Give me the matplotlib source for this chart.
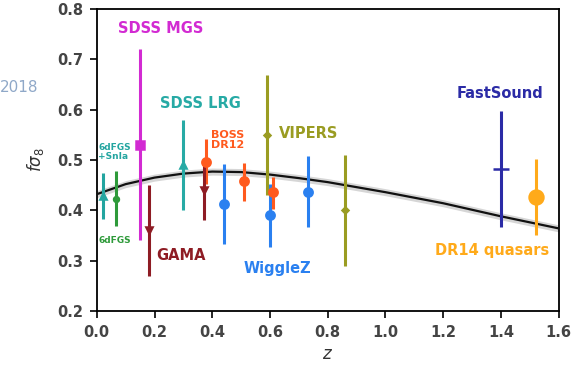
import matplotlib
matplotlib.use("Agg")
import matplotlib.pyplot as plt

# survey measurements: z, f*sigma8, lower / upper error
surveys = ["6dFGS+SnIa", "6dFGS", "SDSS MGS", "GAMA", "SDSS LRG", "BOSS DR12", "GAMA",
           "WiggleZ", "BOSS DR12", "WiggleZ", "BOSS DR12", "VIPERS", "WiggleZ", "VIPERS",
           "FastSound", "DR14 quasars"]
z = [0.02, 0.067, 0.15, 0.18, 0.30, 0.38, 0.37, 0.44, 0.51, 0.60, 0.61, 0.59, 0.73, 0.86, 1.40, 1.52]
fs8 = [0.428, 0.423, 0.530, 0.360, 0.490, 0.497, 0.440, 0.413, 0.458, 0.390, 0.436, 0.550, 0.437, 0.400, 0.482, 0.426]
err_lo = [0.046, 0.055, 0.190, 0.090, 0.090, 0.045, 0.060, 0.080, 0.040, 0.063, 0.034, 0.120, 0.070, 0.110, 0.116, 0.076]
err_hi = [0.046, 0.055, 0.190, 0.090, 0.090, 0.045, 0.060, 0.080, 0.036, 0.063, 0.030, 0.120, 0.070, 0.110, 0.116, 0.076]

# LCDM prediction
z_model = [0.0, 0.1, 0.2, 0.3, 0.4, 0.5, 0.6, 0.7, 0.8, 0.9, 1.0, 1.1, 1.2, 1.3, 1.4, 1.5, 1.6]
fs8_model = [0.432, 0.452, 0.465, 0.473, 0.477, 0.476, 0.471, 0.464, 0.456, 0.446, 0.436,
             0.425, 0.414, 0.401, 0.388, 0.376, 0.364]

colors = {"6dFGS+SnIa": "#23a5a0", "6dFGS": "#2e9a3a", "SDSS MGS": "#d22ad2", "GAMA": "#8e1c24",
          "SDSS LRG": "#27aaa5", "BOSS DR12": "#ff5a1e", "WiggleZ": "#2a80f0", "VIPERS": "#9a9c22",
          "FastSound": "#2b2ba6", "DR14 quasars": "#ffaa1a"}
markers = {"6dFGS+SnIa": ("^", 4), "6dFGS": ("o", 3.5), "SDSS MGS": ("s", 5.5), "GAMA": ("v", 4),
           "SDSS LRG": ("^", 4), "BOSS DR12": ("o", 6), "WiggleZ": ("o", 6), "VIPERS": ("D", 3),
           "FastSound": ("_", 11), "DR14 quasars": ("o", 10)}

fig = plt.figure(figsize=(5.76, 3.67), dpi=100)
ax = fig.add_axes([0.168, 0.153, 0.802, 0.822])

ax.fill_between(z_model, [v - 0.007 for v in fs8_model], [v + 0.007 for v in fs8_model],
                color="#bbbbbb", alpha=0.6, lw=0)
ax.plot(z_model, fs8_model, color="#111111", lw=1.6, zorder=3)

for name, zi, fi, lo, hi in zip(surveys, z, fs8, err_lo, err_hi):
    m, ms = markers[name]
    ax.errorbar(zi, fi, yerr=[[lo], [hi]], fmt=m, ms=ms, color=colors[name],
                ecolor=colors[name], elinewidth=2.2, capsize=0, mew=1.8, zorder=4)

# (text, survey for colour, x, y, size)
labels = [
    ("SDSS MGS", "SDSS MGS", 0.072, 0.762, 10.5),
    ("SDSS LRG", "SDSS LRG", 0.218, 0.612, 10.5),
    ("6dFGS\n+SnIa", "6dFGS+SnIa", 0.005, 0.515, 6.5),
    ("6dFGS", "6dFGS", 0.005, 0.340, 6.5),
    ("GAMA", "GAMA", 0.205, 0.310, 10.5),
    ("BOSS\nDR12", "BOSS DR12", 0.395, 0.540, 8),
    ("VIPERS", "VIPERS", 0.63, 0.552, 10.5),
    ("WiggleZ", "WiggleZ", 0.51, 0.285, 10.5),
    ("FastSound", "FastSound", 1.245, 0.632, 10.5),
    ("DR14 quasars", "DR14 quasars", 1.17, 0.320, 10.5),
]
for txt, name, lx, ly, fsz in labels:
    ax.text(lx, ly, txt, color=colors[name], fontsize=fsz, fontweight="bold",
            ha="left", va="center", linespacing=1.0)

ax.set_xlim(0, 1.6)
ax.set_ylim(0.2, 0.8)
ax.set_xticks([0.0, 0.2, 0.4, 0.6, 0.8, 1.0, 1.2, 1.4, 1.6])
ax.set_yticks([0.2, 0.3, 0.4, 0.5, 0.6, 0.7, 0.8])
ax.set_xticklabels(["0.0", "0.2", "0.4", "0.6", "0.8", "1.0", "1.2", "1.4", "1.6"])
ax.set_yticklabels(["0.2", "0.3", "0.4", "0.5", "0.6", "0.7", "0.8"])
ax.tick_params(direction="out", length=5, width=1.2, labelsize=10.5, labelcolor="#444444", pad=5)
for lab in ax.get_xticklabels() + ax.get_yticklabels():
    lab.set_fontweight("bold")
for sp in ax.spines.values():
    sp.set_linewidth(1.3)

ax.set_xlabel("$z$", fontsize=12, color="#333333")
ax.set_ylabel(r"$f\sigma_8$", fontsize=12, color="#333333", labelpad=8)

fig.text(0.0, 0.762, "2018", color="#8fa8c8", fontsize=11, ha="left", va="center")

fig.savefig("out.png", dpi=100)
